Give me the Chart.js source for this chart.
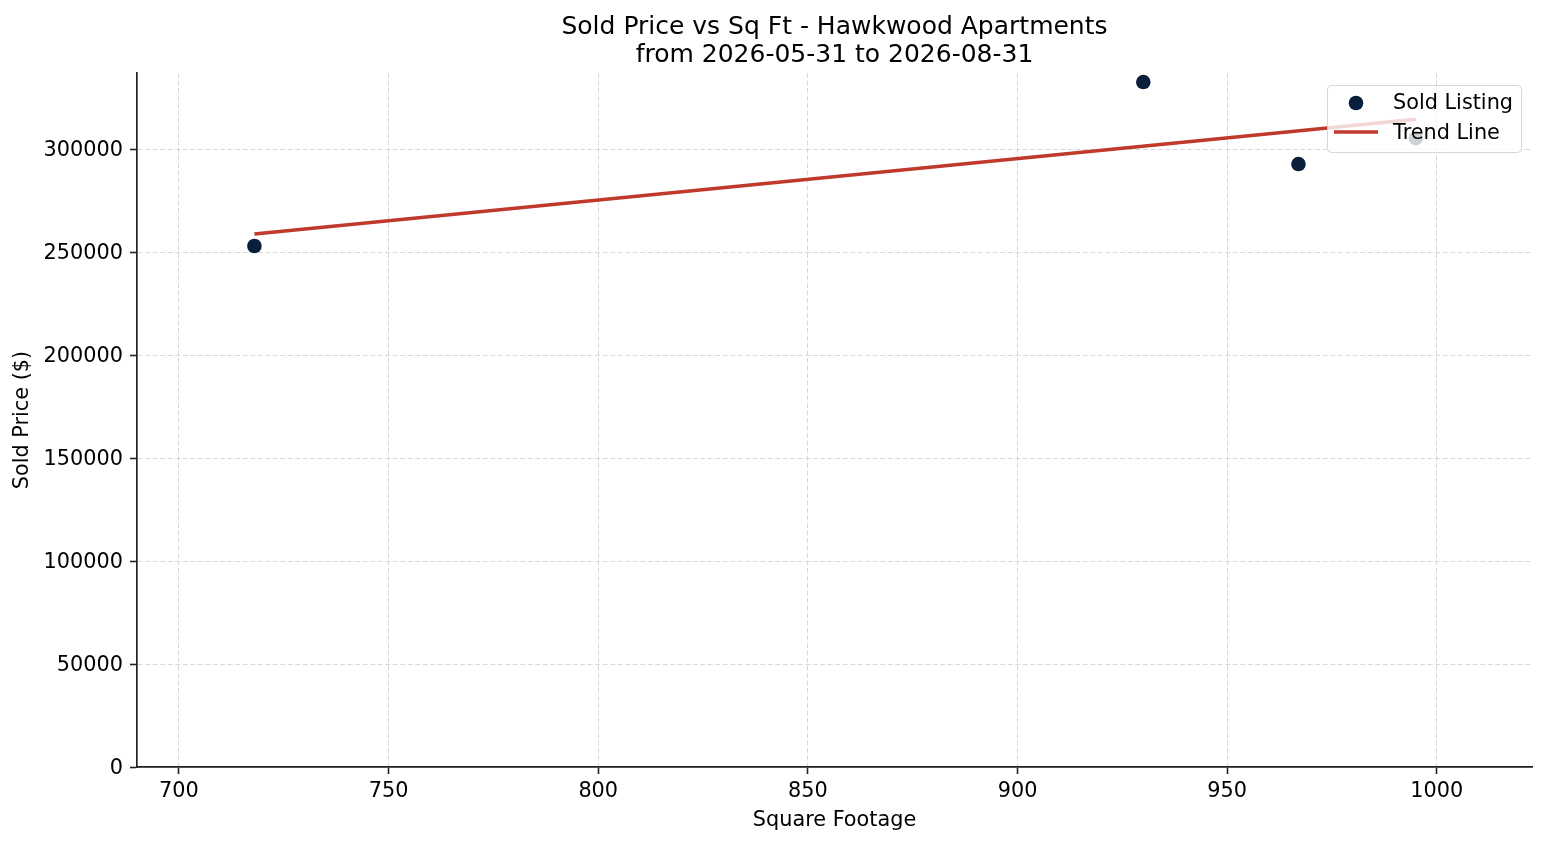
<!DOCTYPE html>
<html>
<head>
<meta charset="utf-8">
<title>Sold Price vs Sq Ft - Hawkwood Apartments</title>
<script src="https://cdn.jsdelivr.net/npm/chart.js@4"></script>
<style>
	html, body { margin: 0; padding: 0; background: #fff; }
	canvas { display: block; }
</style>
</head>
<body>
<canvas id="chart" width="1547" height="845"></canvas>
<script>
// **DATOS**
const sqFt = [718, 930, 967, 995];
const soldPrice = [252900, 332500, 292700, 305300];
const trendSqFt = [718, 995];
const trendPrice = [258700, 314500];
const xTicks = [700, 750, 800, 850, 900, 950, 1000];
const yTicks = [0, 50000, 100000, 150000, 200000, 250000, 300000];

const titleLines = ['Sold Price vs Sq Ft - Hawkwood Apartments', 'from 2026-05-31 to 2026-08-31'];
const legendLabels = ['Sold Listing', 'Trend Line'];

const NAVY = '#0a1f3c';
const RED = '#c0392b';
const FONT = '"DejaVu Sans", sans-serif';

/**
 * Textos fijos: título, etiquetas de ejes y leyenda dentro del área.
 */
const decorPlugin = {
	id: 'decor',
	afterDraw(chart) {
		const { ctx, chartArea: a } = chart;
		const cx = (a.left + a.right) / 2;
		ctx.save();
		ctx.fillStyle = '#000';
		ctx.textAlign = 'center';
		ctx.textBaseline = 'middle';

		// título
		ctx.font = '25px ' + FONT;
		ctx.fillText(titleLines[0], cx, 27.5);
		ctx.fillText(titleLines[1], cx, 55.5);

		// etiquetas de ejes
		ctx.font = '20.8px ' + FONT;
		ctx.fillText('Square Footage', cx, 821);
		ctx.save();
		ctx.translate(23, (a.top + a.bottom) / 2);
		ctx.rotate(-Math.PI / 2);
		ctx.fillText('Sold Price ($)', 0, 0);
		ctx.restore();

		// leyenda
		const bx = 1327, by = 85, bw = 194, bh = 67, r = 4;
		ctx.beginPath();
		ctx.roundRect(bx + 0.5, by + 0.5, bw, bh, r);
		ctx.fillStyle = 'rgba(255,255,255,0.8)';
		ctx.fill();
		ctx.strokeStyle = 'rgba(204,204,204,0.8)';
		ctx.lineWidth = 1;
		ctx.stroke();

		ctx.beginPath();
		ctx.arc(1356, 103, 7.3, 0, Math.PI * 2);
		ctx.fillStyle = NAVY;
		ctx.fill();

		ctx.beginPath();
		ctx.moveTo(1334, 132);
		ctx.lineTo(1378, 132);
		ctx.strokeStyle = RED;
		ctx.lineWidth = 3.5;
		ctx.stroke();

		ctx.fillStyle = '#000';
		ctx.textAlign = 'left';
		ctx.fillText(legendLabels[0], 1393, 103.5);
		ctx.fillText(legendLabels[1], 1393, 133.5);
		ctx.restore();
	}
};

function axisOptions(ticks, min, max, fitKey, fitValue, pad, offset) {
	return {
		type: 'linear',
		min,
		max,
		afterBuildTicks: scale => { scale.ticks = ticks.map(v => ({ value: v })); },
		afterFit: scale => { scale[fitKey] = fitValue; },
		grid: {
			color: '#d8d8d8',
			lineWidth: 1,
			tickColor: '#222',
			tickWidth: 1.6,
			tickLength: 7,
		},
		border: { display: true, color: '#222', width: 1.7, dash: [5, 2.5] },
		ticks: {
			color: '#000',
			padding: pad,
			labelOffset: offset,
			font: { family: FONT, size: 20.8 },
			callback: v => String(v),
		},
		title: { display: false },
	};
}

function init() {
	new Chart(document.getElementById('chart'), {
		type: 'scatter',
		data: {
			datasets: [
				{
					label: legendLabels[1],
					type: 'line',
					data: trendSqFt.map((x, i) => ({ x, y: trendPrice[i] })),
					borderColor: RED,
					borderWidth: 3.5,
					pointRadius: 0,
					fill: false,
					order: 1,
				},
				{
					label: legendLabels[0],
					data: sqFt.map((x, i) => ({ x, y: soldPrice[i] })),
					backgroundColor: NAVY,
					borderColor: NAVY,
					borderWidth: 0,
					pointRadius: 7.3,
					order: 2,
				},
			],
		},
		options: {
			responsive: false,
			animation: false,
			devicePixelRatio: 1,
			layout: { padding: { top: 73, right: 15, left: 0, bottom: 0 } },
			plugins: { legend: { display: false }, tooltip: { enabled: false }, title: { display: false } },
			scales: {
				x: axisOptions(xTicks, 690, 1022.7, 'height', 78, 5, 0),
				y: axisOptions(yTicks, 0, 336900, 'width', 137, 7, 1.5),
			},
		},
		plugins: [decorPlugin],
	});
}

document.addEventListener('DOMContentLoaded', init);
</script>
</body>
</html>
